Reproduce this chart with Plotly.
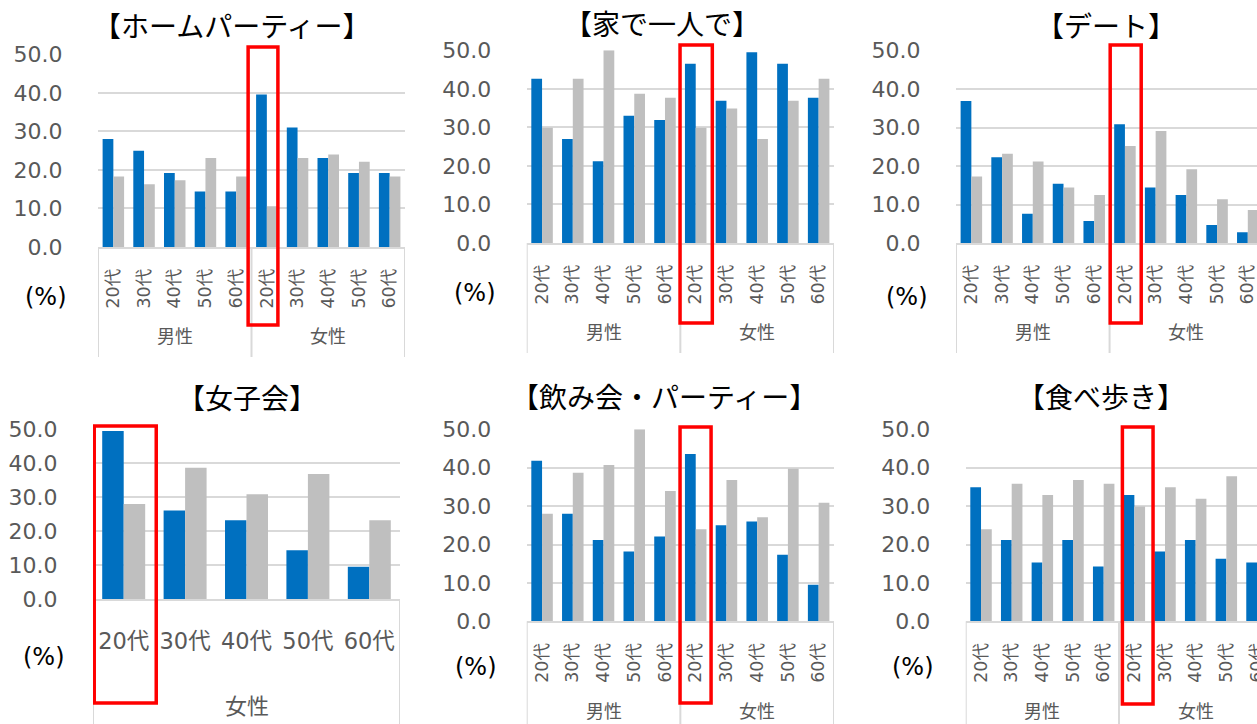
import plotly.graph_objects as go

# ---------------- data ----------------
ages = ["20代", "30代", "40代", "50代", "60代"]
genders = ["男性", "女性"]

titles = ["【ホームパーティー】", "【家で一人で】", "【デート】",
          "【女子会】", "【飲み会・パーティー】", "【食べ歩き】"]

home_blue = [28.0, 25.0, 19.2, 14.4, 14.4, 39.6, 31.0, 23.1, 19.2, 19.2]
home_gray = [18.3, 16.3, 17.3, 23.1, 18.3, 10.6, 23.1, 24.0, 22.1, 18.3]
alone_blue = [42.6, 27.0, 21.2, 33.0, 31.9, 46.5, 36.9, 49.5, 46.5, 37.7]
alone_gray = [29.9, 42.6, 50.0, 38.7, 37.7, 29.9, 34.9, 27.0, 36.9, 42.6]
date_blue = [36.9, 22.3, 7.6, 15.4, 5.7, 30.9, 14.4, 12.5, 4.7, 2.8]
date_gray = [17.3, 23.2, 21.2, 14.4, 12.5, 25.2, 29.1, 19.2, 11.4, 8.6]
girls_blue = [49.5, 26.1, 23.2, 14.4, 9.5]
girls_gray = [28.0, 38.7, 30.9, 36.8, 23.2]
drink_blue = [41.8, 28.0, 21.2, 18.2, 22.1, 43.6, 25.0, 26.0, 17.3, 9.5]
drink_gray = [28.0, 38.7, 40.7, 50.0, 33.9, 24.0, 36.8, 27.1, 39.7, 30.9]
food_blue = [34.9, 21.2, 15.3, 21.2, 14.3, 32.9, 18.2, 21.2, 16.3, 15.3]
food_gray = [24.0, 35.8, 32.9, 36.8, 35.8, 29.9, 34.9, 31.9, 37.8, 33.0]

y_ticks = [0, 10, 20, 30, 40, 50]

series = [
    (home_blue, home_gray, genders),
    (alone_blue, alone_gray, genders),
    (date_blue, date_gray, genders),
    (girls_blue, girls_gray, ["女性"]),
    (drink_blue, drink_gray, genders),
    (food_blue, food_gray, genders),
]

# ---------------- layout (pixels) ----------------
W, H = 1257, 724
BLUE, GRAY = "#0070C0", "#BFBFBF"
GRID = "#D9D9D9"
TXT = "#595959"
FONT = "DejaVu Sans, Noto Sans CJK JP, sans-serif"
JP = "Noto Sans CJK JP, sans-serif"

panels = [
    dict(x0=98, x1=405, yt=54.3, yb=247, xr=None, tx=231, ty=25, px=46, py=297,
         sep_b=357, gy=335, rect=(4.39, 5.36, 47, 325), tang=-90, tsize=17.5, tlen=13, gsize=18),
    dict(x0=526.7, x1=834, yt=50.3, yb=243, xr=None, tx=662, ty=23, px=475, py=293,
         sep_b=353, gy=331, rect=(4.49, 5.54, 45, 323), tang=-90, tsize=17.5, tlen=13, gsize=18),
    dict(x0=956, x1=1257, yt=50.7, yb=243, xr=[-0.5, 9.3], tx=1106, ty=25, px=907, py=297,
         sep_b=353, gy=331, rect=(4.52, 5.53, 45, 323), tang=-90, tsize=17.5, tlen=13, gsize=18),
    dict(x0=93, x1=400, yt=429.3, yb=599, xr=None, tx=247, ty=397, px=44, py=657,
         sep_b=724, gy=704, rect=(-0.48, 0.53, 426, 703), tang=0, tsize=22.5, tlen=21, gsize=22),
    dict(x0=526.7, x1=834, yt=429.3, yb=621.3, xr=None, tx=664, ty=396, px=476, py=667,
         sep_b=724, gy=710, rect=(4.49, 5.5, 427, 703), tang=-90, tsize=17.5, tlen=13, gsize=18),
    dict(x0=965.7, x1=1257, yt=429.3, yb=621.3, xr=[-0.5, 9.0], tx=1101, ty=396, px=913, py=667,
         sep_b=724, gy=710, rect=(4.61, 5.61, 427, 704), tang=-90, tsize=17.5, tlen=13, gsize=18),
]

fig = go.Figure()
annotations = []
shapes = []

for i, (p, (blue, gray, grp), title) in enumerate(zip(panels, series, titles), start=1):
    n = len(blue)
    labels = (ages * len(grp))[:n]
    xs = list(range(n))
    xa, ya = f"x{i}", f"y{i}"
    fig.add_trace(go.Bar(x=xs, y=blue, marker_color=BLUE, marker_line_width=0,
                         xaxis=xa, yaxis=ya, showlegend=False, name="blue"))
    fig.add_trace(go.Bar(x=xs, y=gray, marker_color=GRAY, marker_line_width=0,
                         xaxis=xa, yaxis=ya, showlegend=False, name="gray"))
    rng = p["xr"] if p["xr"] else [-0.5, n - 0.5]
    key = "" if i == 1 else str(i)
    fig.update_layout(**{
        f"xaxis{key}": dict(
            domain=[p["x0"] / W, p["x1"] / W], range=rng, anchor=ya, automargin=False,
            tickmode="array", tickvals=xs, ticktext=labels, tickangle=p["tang"],
            tickfont=dict(family=FONT, size=p["tsize"], color=TXT), ticklabeloverflow="allow",
            showgrid=False, zeroline=False, showline=True, linecolor=GRID, linewidth=1.5,
            ticks="outside", ticklen=p["tlen"], tickcolor="rgba(0,0,0,0)", fixedrange=True),
        f"yaxis{key}": dict(
            domain=[1 - p["yb"] / H, 1 - p["yt"] / H], range=[0, 50], anchor=xa, automargin=False,
            tickmode="array", tickvals=y_ticks, tickformat=".1f",
            tickfont=dict(family=FONT, size=22, color=TXT),
            showgrid=True, gridcolor=GRID, gridwidth=1.5, zeroline=False, showline=False,
            ticks="outside", ticklen=30, tickcolor="rgba(0,0,0,0)", fixedrange=True),
    })
    # title
    annotations.append(dict(text=title, xref="paper", yref="paper", x=p["tx"] / W, y=1 - p["ty"] / H,
                            xanchor="center", yanchor="middle", showarrow=False,
                            font=dict(family=JP, size=28, color="#000000")))
    # unit
    annotations.append(dict(text="(%)", xref="paper", yref="paper", x=p["px"] / W, y=1 - p["py"] / H,
                            xanchor="center", yanchor="middle", showarrow=False,
                            font=dict(family=FONT, size=24, color="#000000")))
    # group labels and separators
    for g, gname in enumerate(grp):
        annotations.append(dict(text=gname, xref=xa, yref="paper", x=g * 5 + 2, y=1 - p["gy"] / H,
                                xanchor="center", yanchor="middle", showarrow=False,
                                font=dict(family=JP, size=p["gsize"], color=TXT)))
    for b in range(len(grp) + 1):
        shapes.append(dict(type="line", xref=xa, yref="paper", x0=b * 5 - 0.5, x1=b * 5 - 0.5,
                           y0=1 - p["yb"] / H, y1=1 - p["sep_b"] / H,
                           line=dict(color=GRID, width=2)))
    rx0, rx1, ry0, ry1 = p["rect"]
    shapes.append(dict(type="rect", xref=xa, yref="paper", x0=rx0, x1=rx1,
                       y0=1 - ry1 / H, y1=1 - ry0 / H,
                       line=dict(color="#FF0000", width=3.5), fillcolor="rgba(0,0,0,0)"))

fig.update_layout(
    width=W, height=H, margin=dict(l=0, r=0, t=0, b=0, autoexpand=False),
    paper_bgcolor="white", plot_bgcolor="white",
    barmode="group", bargap=0.3, bargroupgap=0,
    annotations=annotations, shapes=shapes,
)

fig.write_html("out.html", config={"displayModeBar": False},
               post_script="document.body.style.margin='0';document.body.style.overflow='hidden';")
